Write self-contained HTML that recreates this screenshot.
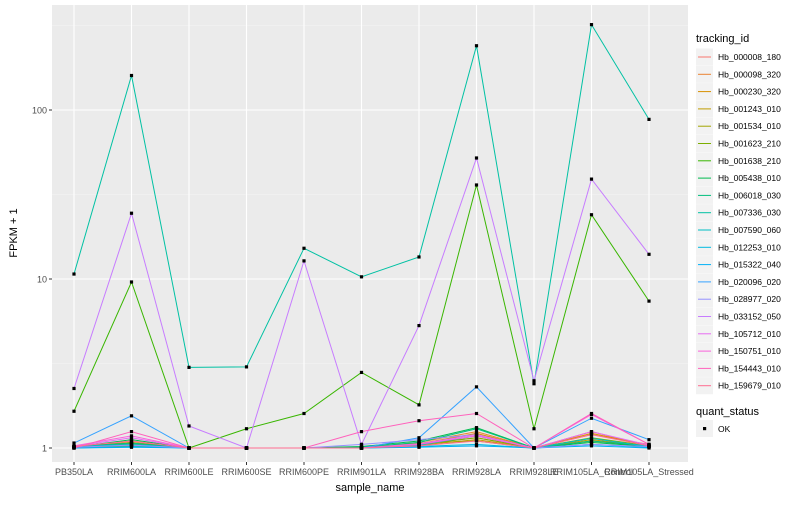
<!DOCTYPE html>
<html><head><meta charset="utf-8"><style>
body{margin:0;background:#fff;font-family:"Liberation Sans",sans-serif}
svg text{font-family:"Liberation Sans",sans-serif}
</style></head><body>
<svg id="c" width="800" height="500" xmlns="http://www.w3.org/2000/svg"></svg>
<script>
const samples=["PB350LA","RRIM600LA","RRIM600LE","RRIM600SE","RRIM600PE","RRIM901LA","RRIM928BA","RRIM928LA","RRIM928LE","RRIM105LA_Control","RRIM105LA_Stressed"];
const ids=["Hb_000008_180","Hb_000098_320","Hb_000230_320","Hb_001243_010","Hb_001534_010","Hb_001623_210","Hb_001638_210","Hb_005438_010","Hb_006018_030","Hb_007336_030","Hb_007590_060","Hb_012253_010","Hb_015322_040","Hb_020096_020","Hb_028977_020","Hb_033152_050","Hb_105712_010","Hb_150751_010","Hb_154443_010","Hb_159679_010"];
const colors=["#F8766D","#EA8331","#D89000","#C09B00","#A3A500","#7CAE00","#39B600","#00BB4E","#00BF7D","#00C1A3","#00BFC4","#00BAE0","#00B0F6","#35A2FF","#9590FF","#C77CFF","#E76BF3","#FA62DB","#FF62BC","#FF6C91"];
const values=[
[1.02,1.10,1.0,1.0,1.0,1.0,1.05,1.15,1.0,1.20,1.05],
[1.01,1.05,1.0,1.0,1.0,1.0,1.08,1.25,1.0,1.25,1.03],
[1.02,1.08,1.0,1.0,1.0,1.0,1.06,1.22,1.0,1.22,1.04],
[1.01,1.04,1.0,1.0,1.0,1.0,1.04,1.12,1.0,1.12,1.02],
[1.00,1.03,1.0,1.0,1.0,1.0,1.07,1.10,1.0,1.10,1.02],
[1.01,1.06,1.0,1.0,1.0,1.0,1.05,1.15,1.0,1.15,1.03],
[1.65,9.6,1.0,1.3,1.6,2.8,1.8,36,1.3,24,7.4],
[1.01,1.12,1.0,1.0,1.0,1.02,1.10,1.32,1.0,1.08,1.02],
[1.02,1.07,1.0,1.0,1.0,1.01,1.08,1.30,1.0,1.10,1.03],
[10.7,160,3.0,3.02,15.2,10.3,13.5,240,2.4,320,88],
[1.02,1.05,1.0,1.0,1.0,1.0,1.04,1.18,1.0,1.14,1.02],
[1.00,1.02,1.0,1.0,1.0,1.0,1.02,1.05,1.0,1.05,1.01],
[1.00,1.01,1.0,1.0,1.0,1.0,1.01,1.03,1.0,1.03,1.00],
[1.07,1.55,1.0,1.0,1.0,1.0,1.15,2.3,1.0,1.5,1.12],
[1.01,1.04,1.0,1.0,1.0,1.05,1.12,1.20,1.0,1.05,1.02],
[2.25,24.5,1.35,1.0,12.8,1.05,5.3,52,2.5,39,14],
[1.02,1.15,1.0,1.0,1.0,1.0,1.06,1.20,1.0,1.25,1.04],
[1.03,1.18,1.0,1.0,1.0,1.0,1.05,1.18,1.0,1.58,1.05],
[1.0,1.25,1.0,1.0,1.0,1.25,1.45,1.6,1.0,1.6,1.05],
[1.02,1.10,1.0,1.0,1.0,1.0,1.03,1.10,1.0,1.20,1.03]
];
const yTicks=[1,10,100];
const NS="http://www.w3.org/2000/svg";
const svg=document.getElementById('c');
const L=52,R=688,T=5,B=462;
function x(i){return 74+i*(649-74)/(samples.length-1);}
function y(v){return 448-169*Math.log10(v);}
function el(t,a,p){const e=document.createElementNS(NS,t);for(const k in a)e.setAttribute(k,a[k]);(p||svg).appendChild(e);return e;}
const panel=el('rect',{x:L,y:T,width:R-L,height:B-T,fill:'#EBEBEB'});


[Math.sqrt(10),Math.sqrt(1000),Math.sqrt(100000)].forEach(v=>{if(y(v)>T)el('line',{x1:L,x2:R,y1:y(v),y2:y(v),stroke:'#F5F5F5','stroke-width':0.6});});
yTicks.forEach(v=>{
 el('line',{x1:L,x2:R,y1:y(v),y2:y(v),stroke:'#fff','stroke-width':1.1});
 el('line',{x1:L-3,x2:L,y1:y(v),y2:y(v),stroke:'#333'});
 const t=el('text',{x:L-5,y:y(v)+3.5,'text-anchor':'end','font-size':9,fill:'#4D4D4D'});t.textContent=v;
 
 
});
samples.forEach((s,i)=>{
 el('line',{x1:x(i),x2:x(i),y1:T,y2:B,stroke:'#fff','stroke-width':1.1});
 el('line',{x1:x(i),x2:x(i),y1:B,y2:B+3,stroke:'#333'});
 const t=el('text',{x:x(i),y:B+13,'text-anchor':'middle','font-size':9,fill:'#4D4D4D'});t.textContent=s;
 
 
});
values.forEach((vals,si)=>{
 const p=el('polyline',{points:vals.map((v,i)=>x(i)+','+y(v)).join(' '),fill:'none',stroke:colors[si],'stroke-width':1});
 
 
});
values.forEach(vals=>vals.forEach((v,i)=>{
 const r=el('rect',{x:x(i)-1.6,y:y(v)-1.6,width:3.2,height:3.2,fill:'#000'});
 
 
}));
let t=el('text',{x:370,y:491,'text-anchor':'middle','font-size':11,fill:'#000'});t.textContent='sample_name';

t=el('text',{x:17,y:233,'text-anchor':'middle','font-size':11,fill:'#000',transform:'rotate(-90 17 233)'});t.textContent='FPKM + 1';

t=el('text',{x:696,y:42,'font-size':11,fill:'#000'});t.textContent='tracking_id';

ids.forEach((id,i)=>{
 const cy=57+i*17.3;
 const g=el('g',{});
 
 
 el('rect',{x:696,y:cy-8.5,width:17,height:17,fill:'#F2F2F2'},g);
 el('line',{x1:698,x2:711,y1:cy,y2:cy,stroke:colors[i],'stroke-width':1},g);
 const tt=el('text',{x:718,y:cy+3,'font-size':8.5,fill:'#000'},g);tt.textContent=id;
});
t=el('text',{x:696,y:415,'font-size':11,fill:'#000'});t.textContent='quant_status';

const g2=el('g',{});


el('rect',{x:696,y:420,width:17,height:17,fill:'#F2F2F2'},g2);
el('rect',{x:703,y:427,width:3.2,height:3.2,fill:'#000'},g2);
t=el('text',{x:718,y:432,'font-size':8.5,fill:'#000'},g2);t.textContent='OK';
</script>
</body></html>
